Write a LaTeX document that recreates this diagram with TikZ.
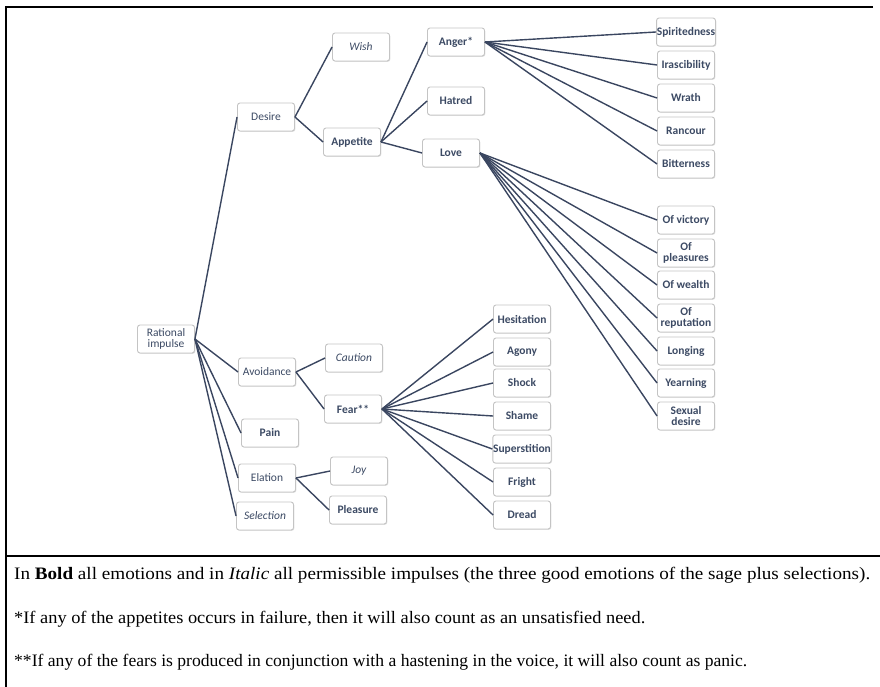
\documentclass[tikz,border=0pt]{standalone}
\usepackage{fontspec}
\setmainfont{Carlito}
\newfontfamily\footfont{Liberation Serif}
\usetikzlibrary{shadows}
\definecolor{inkc}{HTML}{3A4660}
\definecolor{boxc}{HTML}{C4C4C4}
\definecolor{txtc}{HTML}{3C4A64}
\tikzset{
  box/.style={draw=boxc, line width=0.9pt, fill=white, rounded corners=2.5pt,
    minimum width=57pt, minimum height=28pt, inner sep=0.3pt, align=center,
    font=\fontsize{11.5}{11.5}\selectfont, text=txtc,
    drop shadow={shadow xshift=0.8pt, shadow yshift=-0.8pt, opacity=0.25}},
  bbox/.style={box, font=\fontsize{11.5}{11.5}\selectfont\bfseries},
  ibox/.style={box, font=\fontsize{11.5}{11.5}\selectfont\itshape},
  link/.style={draw=inkc, line width=1.4pt},
  frame/.style={draw=black, line width=1.3pt},
  foot/.style={anchor=west, inner sep=0pt, font=\footfont\fontsize{17.5}{18}\selectfont}
}
\begin{document}
\begin{tikzpicture}[x=1pt,y=-1pt]
\useasboundingbox (0,0) rectangle (880,687);
% frame
\coordinate (tl) at (6,7);
\coordinate (tr) at (873,7);
\coordinate (bl) at (6,687);
\coordinate (sl) at (6,556);
\coordinate (sr) at (880,556);
\draw[frame] (tr) -- (tl) -- (bl);
\draw[frame] (sl) -- (sr);
% nodes
\node[box] (ri) at (166,339) {Rational\\[-1pt]impulse};
\node[box] (desire) at (266,117) {Desire};
\node[ibox] (wish) at (361,47) {Wish};
\node[bbox] (appetite) at (352,142) {Appetite};
\node[bbox] (anger) at (456,42) {Anger*};
\node[bbox] (hatred) at (456,101) {Hatred};
\node[bbox] (love) at (451,153) {Love};
\node[bbox] (spir) at (686,32) {Spiritedness};
\node[bbox] (iras) at (686,65) {Irascibility};
\node[bbox] (wrath) at (686,98) {Wrath};
\node[bbox] (ranc) at (686,131) {Rancour};
\node[bbox] (bitt) at (686,164) {Bitterness};
\node[bbox] (vict) at (686,220) {Of victory};
\node[bbox] (pleas) at (686,253) {Of\\[-1pt]pleasures};
\node[bbox] (wealth) at (686,285) {Of wealth};
\node[bbox] (reput) at (686,318) {Of\\[-1pt]reputation};
\node[bbox] (long) at (686,351) {Longing};
\node[bbox] (yearn) at (686,383) {Yearning};
\node[bbox] (sexual) at (686,416) {Sexual\\[-1pt]desire};
\node[box] (avoid) at (267,372) {Avoidance};
\node[ibox] (caution) at (354,358) {Caution};
\node[bbox] (fear) at (353,409) {Fear**};
\node[bbox] (pain) at (270,433) {Pain};
\node[box] (elation) at (267,478) {Elation};
\node[ibox] (joy) at (359,471) {Joy};
\node[ibox] (selection) at (265,516) {Selection};
\node[bbox] (pleasure) at (358,510) {Pleasure};
\node[bbox] (hesit) at (522,319) {Hesitation};
\node[bbox] (agony) at (522,352) {Agony};
\node[bbox] (shock) at (522,383) {Shock};
\node[bbox] (shame) at (522,416) {Shame};
\node[bbox] (super) at (522,449) {Superstition};
\node[bbox] (fright) at (522,482) {Fright};
\node[bbox] (dread) at (522,515) {Dread};
% links
\foreach \t in {desire,avoid,pain,elation,selection} \draw[link] (ri.east) -- (\t.west);
\foreach \t in {wish,appetite} \draw[link] (desire.east) -- (\t.west);
\foreach \t in {anger,hatred,love} \draw[link] (appetite.east) -- (\t.west);
\foreach \t in {spir,iras,wrath,ranc,bitt} \draw[link] (anger.east) -- (\t.west);
\foreach \t in {vict,pleas,wealth,reput,long,yearn,sexual} \draw[link] (love.east) -- (\t.west);
\foreach \t in {caution,fear} \draw[link] (avoid.east) -- (\t.west);
\foreach \t in {hesit,agony,shock,shame,super,fright,dread} \draw[link] (fear.east) -- (\t.west);
\foreach \t in {joy,pleasure} \draw[link] (elation.east) -- (\t.west);
% footnotes
\node[foot] (f1) at (14,575) {\resizebox{856pt}{\height}{In \textbf{Bold} all emotions and in \textit{Italic} all permissible impulses (the three good emotions of the sage plus selections).}};
\node[foot] (f2) at (14,619) {\resizebox{631pt}{\height}{*If any of the appetites occurs in failure, then it will also count as an unsatisfied need.}};
\node[foot] (f3) at (14,662) {\resizebox{733pt}{\height}{**If any of the fears is produced in conjunction with a hastening in the voice, it will also count as panic.}};
\end{tikzpicture}
\end{document}
